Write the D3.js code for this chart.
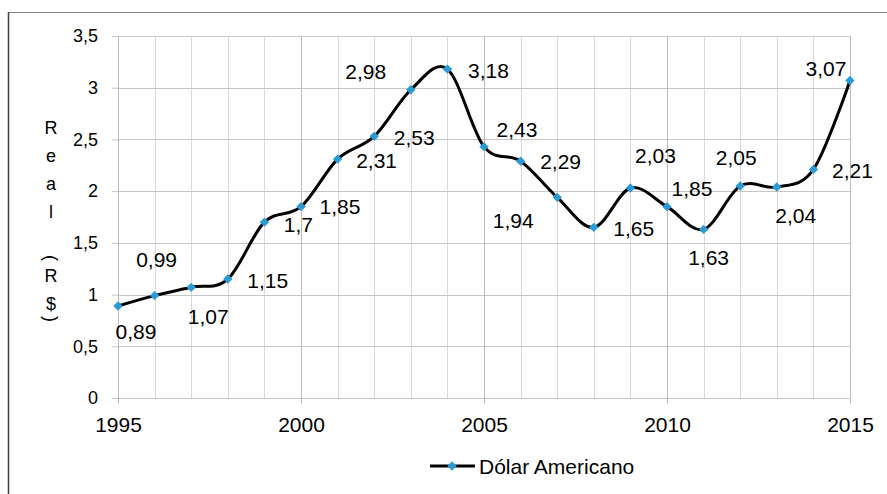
<!DOCTYPE html>
<html>
<head>
<meta charset="utf-8">
<script src="https://cdn.jsdelivr.net/npm/d3@7"></script>
<style>
  body { margin: 0; background: #fff; }
  svg { display: block; font-family: "Liberation Sans", Arial, sans-serif; }
</style>
</head>
<body>
<svg id="chart" width="887" height="494"></svg>
<script>
// data
const years = d3.range(1995, 2016);
const dolar = [0.89, 0.99, 1.07, 1.15, 1.7, 1.85, 2.31, 2.53, 2.98, 3.18, 2.43,
               2.29, 1.94, 1.65, 2.03, 1.85, 1.63, 2.05, 2.04, 2.21, 3.07];
const yTicks = [0, 0.5, 1, 1.5, 2, 2.5, 3, 3.5];
const xTicks = [1995, 2000, 2005, 2010, 2015];
const seriesName = "Dólar Americano";
const yTitle = ["R", "e", "a", "l", " ", "(", "R", "$", ")"];

// where each value label sits relative to its point (dx, dy), like excel placed them
const labelOffsets = [
  [18, 26], [2, -36], [17, 29], [40, 1], [34, 2], [39, 0], [39, 1], [40, 1],
  [-45, -18], [41, 1], [33, -17], [40, 0], [-44, 23], [40, 1], [25, -33],
  [25, -18], [5, 28], [-4, -28], [19, 28], [39, 1], [-24, -12]
];
// vertical step after each title character
const titleSteps = [28, 28, 28, 28, 18, 18, 28, 15, 0];

const BLUE = "#2b9bd6";
const ptBr = d3.formatLocale({ decimal: ",", thousands: ".", grouping: [3], currency: ["R$", ""] });
const fmt = (v) => ptBr.format("~g")(v);

const svg = d3.select("#chart");

const x = d3.scaleLinear().domain([1995, 2015]).range([118, 850]);
const y = d3.scaleLinear().domain([0, 3.5]).range([398, 36]);

// outer frame (only the top and left edges show in the picture)
svg.append("line").attr("x1", 8).attr("x2", 887).attr("y1", 12.5).attr("y2", 12.5)
  .attr("stroke", "#808080").attr("stroke-width", 1);
svg.append("line").attr("x1", 8.5).attr("x2", 8.5).attr("y1", 12).attr("y2", 494)
  .attr("stroke", "#404040").attr("stroke-width", 1.5);

// minor vertical grid, one per year
svg.append("g")
  .selectAll("line")
  .data(years.filter((d) => !xTicks.includes(d)))
  .enter()
  .append("line")
  .attr("x1", (d) => Math.round(x(d)) + 0.5)
  .attr("x2", (d) => Math.round(x(d)) + 0.5)
  .attr("y1", y(3.5))
  .attr("y2", y(0))
  .attr("stroke", "#d9d9d9");

// horizontal grid
svg.append("g")
  .selectAll("line")
  .data(yTicks)
  .enter()
  .append("line")
  .attr("x1", x(1995))
  .attr("x2", x(2015))
  .attr("y1", (d) => Math.round(y(d)) + 0.5)
  .attr("y2", (d) => Math.round(y(d)) + 0.5)
  .attr("stroke", "#c6c6c6");

// major vertical grid every 5 years
svg.append("g")
  .selectAll("line")
  .data(xTicks)
  .enter()
  .append("line")
  .attr("x1", (d) => Math.round(x(d)) + 0.5)
  .attr("x2", (d) => Math.round(x(d)) + 0.5)
  .attr("y1", y(3.5))
  .attr("y2", y(0))
  .attr("stroke", "#bdbdbd");

// axes
const yAxis = svg.append("g")
  .attr("transform", `translate(${x(1995)},0)`)
  .call(d3.axisLeft(y).tickValues(yTicks).tickSize(6).tickPadding(14).tickFormat(fmt));
yAxis.select(".domain").remove();
yAxis.selectAll("line").attr("stroke", "#c6c6c6");
yAxis.selectAll("text").attr("font-size", "18px").attr("fill", "#000")
  .style("font-family", "Liberation Sans, Arial, sans-serif");

const xAxis = svg.append("g")
  .attr("transform", `translate(0,${y(0)})`)
  .call(d3.axisBottom(x).tickValues(xTicks).tickSize(6).tickPadding(13).tickFormat(d3.format("d")));
xAxis.select(".domain").remove();
xAxis.selectAll("line").attr("stroke", "#bdbdbd");
xAxis.selectAll("text").attr("font-size", "21px").attr("fill", "#000")
  .style("font-family", "Liberation Sans, Arial, sans-serif");

// y axis title, one character per row, brackets turned sideways
let ty = 128;
const titleG = svg.append("g");
yTitle.forEach((ch, i) => {
  const isBracket = ch === "(" || ch === ")";
  const t = titleG.append("text")
    .attr("font-size", "18px")
    .attr("text-anchor", "middle")
    .attr("dominant-baseline", "central")
    .text(ch);
  if (isBracket) {
    t.attr("transform", `translate(51,${ty}) rotate(90)`);
  } else {
    t.attr("x", 51).attr("y", ty);
  }
  ty += titleSteps[i];
});

// smoothed line
const line = d3.line()
  .x((d, i) => x(years[i]))
  .y((d) => y(d))
  .curve(d3.curveCatmullRom.alpha(0));

svg.append("path")
  .datum(dolar)
  .attr("d", line)
  .attr("fill", "none")
  .attr("stroke", "#000")
  .attr("stroke-width", 3)
  .attr("stroke-linejoin", "round");

// diamond markers
const diamond = d3.symbol().type(d3.symbolDiamond2).size(56);
svg.append("g")
  .selectAll("path")
  .data(dolar)
  .enter()
  .append("path")
  .attr("d", diamond)
  .attr("transform", (d, i) => `translate(${x(years[i])},${y(d)})`)
  .attr("fill", BLUE);

// value labels
svg.append("g")
  .selectAll("text")
  .data(dolar)
  .enter()
  .append("text")
  .attr("x", (d, i) => x(years[i]) + labelOffsets[i][0])
  .attr("y", (d, i) => y(d) + labelOffsets[i][1])
  .attr("text-anchor", "middle")
  .attr("dominant-baseline", "central")
  .attr("font-size", "21px")
  .attr("fill", "#000")
  .text((d) => fmt(d));

// legend
const lg = svg.append("g").attr("transform", "translate(430,466)");
lg.append("line").attr("x1", 0).attr("x2", 45).attr("y1", 0).attr("y2", 0)
  .attr("stroke", "#000").attr("stroke-width", 3);
lg.append("path").attr("d", diamond).attr("transform", "translate(22,0)").attr("fill", BLUE);
lg.append("text").attr("x", 49).attr("y", 0).attr("dominant-baseline", "central")
  .attr("font-size", "21px").text(seriesName);
</script>
</body>
</html>
